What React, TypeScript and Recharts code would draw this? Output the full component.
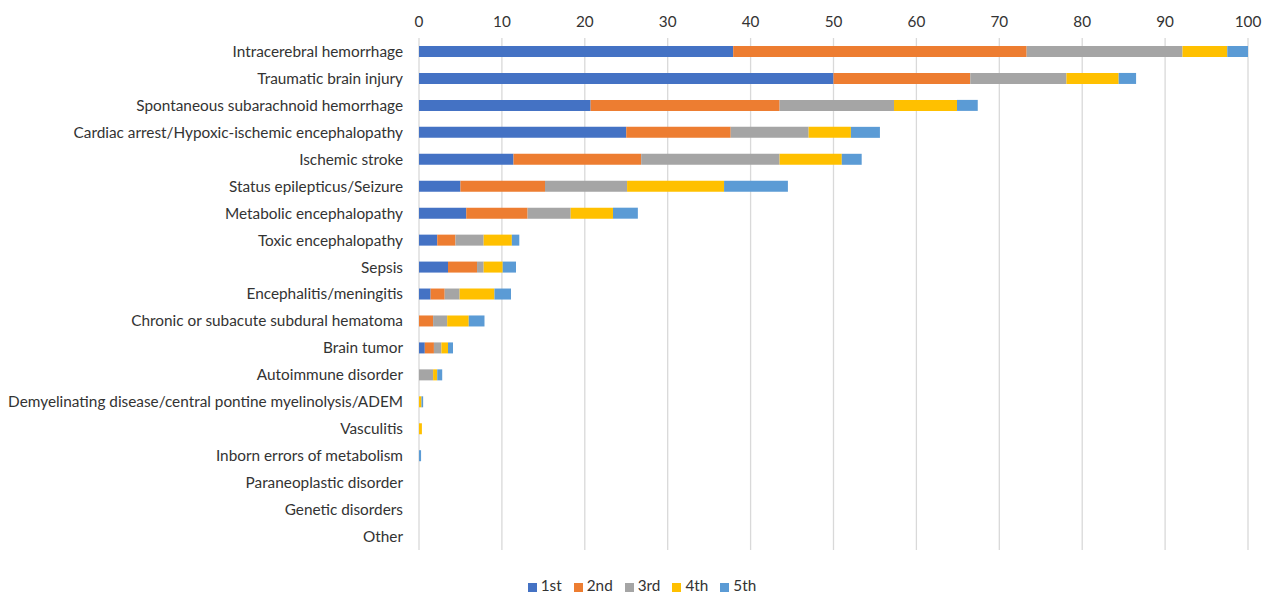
import React from "react";
import { BarChart, Bar, XAxis, YAxis, CartesianGrid, Legend } from "recharts";

const categories = [
  "Intracerebral hemorrhage",
  "Traumatic brain injury",
  "Spontaneous subarachnoid hemorrhage",
  "Cardiac arrest/Hypoxic-ischemic encephalopathy",
  "Ischemic stroke",
  "Status epilepticus/Seizure",
  "Metabolic encephalopathy",
  "Toxic encephalopathy",
  "Sepsis",
  "Encephalitis/meningitis",
  "Chronic or subacute subdural hematoma",
  "Brain tumor",
  "Autoimmune disorder",
  "Demyelinating disease/central pontine myelinolysis/ADEM",
  "Vasculitis",
  "Inborn errors of metabolism",
  "Paraneoplastic disorder",
  "Genetic disorders",
  "Other",
];

const first = [37.9, 50.0, 20.7, 25.0, 11.4, 5.0, 5.7, 2.2, 3.5, 1.4, 0, 0.7, 0, 0, 0, 0, 0, 0, 0];
const second = [35.4, 16.5, 22.8, 12.6, 15.4, 10.2, 7.4, 2.2, 3.5, 1.7, 1.7, 1.1, 0, 0, 0, 0, 0, 0, 0];
const third = [18.8, 11.6, 13.8, 9.4, 16.7, 9.9, 5.2, 3.4, 0.8, 1.8, 1.7, 0.9, 1.7, 0, 0, 0, 0, 0, 0];
const fourth = [5.4, 6.3, 7.6, 5.1, 7.5, 11.7, 5.1, 3.4, 2.3, 4.2, 2.6, 0.8, 0.5, 0.3, 0.35, 0, 0, 0, 0];
const fifth = [2.5, 2.1, 2.5, 3.5, 2.4, 7.7, 3.0, 0.9, 1.6, 2.0, 1.9, 0.6, 0.6, 0.2, 0, 0.25, 0, 0, 0];

const xTicks = [0, 10, 20, 30, 40, 50, 60, 70, 80, 90, 100];

const seriesNames = ["1st", "2nd", "3rd", "4th", "5th"];
const seriesColors = ["#4472C4", "#ED7D31", "#A5A5A5", "#FFC000", "#5B9BD5"];
const seriesValues = [first, second, third, fourth, fifth];

const data = categories.map((name, i) => {
  const row: Record<string, string | number> = { name };
  seriesNames.forEach((s, j) => {
    row[s] = seriesValues[j][i];
  });
  return row;
});

const FONT = "Lato, 'Liberation Sans', sans-serif";
const TEXT = "#333333";

export default function App() {
  return (
    <div style={{ fontFamily: FONT }}>
      <BarChart
        width={1257}
        height={586}
        data={data}
        layout="vertical"
        margin={{ top: 0, right: 17, bottom: 26, left: 0 }}
        barSize={11}
      >
        <CartesianGrid horizontal={false} stroke="#d9d9d9" strokeWidth={1.3} />
        <XAxis
          type="number"
          orientation="top"
          domain={[0, 100]}
          ticks={xTicks}
          axisLine={false}
          tickLine={false}
          height={30}
          tick={{ fill: TEXT, fontSize: 15.3, fontFamily: FONT }}
          tickMargin={5}
          interval={0}
        />
        <YAxis
          type="category"
          dataKey="name"
          width={411}
          axisLine={false}
          tickLine={false}
          interval={0}
          tickMargin={10}
          tick={{ fill: TEXT, fontSize: 15.35, fontFamily: FONT }}
        />
        <Legend
          verticalAlign="bottom"
          iconType="square"
          iconSize={9}
          wrapperStyle={{ fontSize: 15.3, fontFamily: FONT, top: 568, paddingLeft: 20 }}
          formatter={(v) => <span style={{ color: TEXT, paddingRight: 2 }}>{v}</span>}
        />
        {seriesNames.map((s, j) => (
          <Bar key={s} dataKey={s} stackId="a" fill={seriesColors[j]} isAnimationActive={false} />
        ))}
      </BarChart>
    </div>
  );
}
